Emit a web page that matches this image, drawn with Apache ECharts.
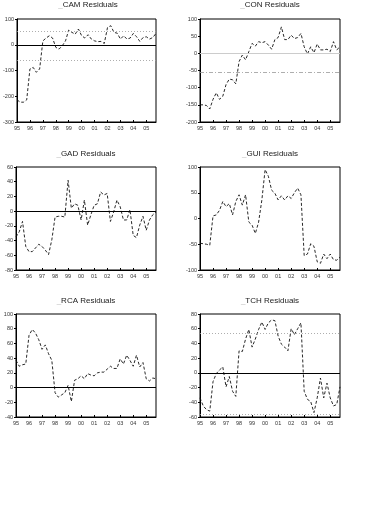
<!DOCTYPE html>
<html><head><meta charset="utf-8">
<script src="https://cdn.jsdelivr.net/npm/echarts@6/dist/echarts.min.js"></script>
<style>html,body{margin:0;padding:0;background:#fff}#c{width:368px;height:512px}</style>
</head><body><div id="c"></div>
<script>
// Quarterly 1995Q1 - 2005Q4
var years = ['95','96','97','98','99','00','01','02','03','04','05'];
var quarters = ['Q1','Q2','Q3','Q4'];

var titles = ['CAM Residuals', 'CON Residuals', 'GAD Residuals', 'GUI Residuals', 'RCA Residuals', 'TCH Residuals'];

var cam = [-214,-223,-223,-214,-94,-88,-107,-94,15,26,35,26,-10,-17,-4,15,57,48,41,61,35,26,39,22,15,12,13,5,67,74,48,45,22,35,22,26,44,31,13,28,31,22,28,44];
var con = [-150,-150,-152,-162,-134,-115,-134,-125,-91,-75,-77,-89,-24,-5,-19,5,29,21,34,31,34,24,12,40,46,77,40,40,53,43,46,58,19,-2,19,2,27,10,10,12,5,34,10,19];
var gad = [-35,-28,-14,-48,-55,-55,-50,-45,-48,-53,-59,-39,-8,-7,-7,-8,42,4,10,8,-12,15,-19,-5,8,10,26,22,24,-14,-1,15,6,-12,-12,2,-33,-36,-19,-7,-26,-12,-5,-1];
var gui = [-48,-49,-50,-52,5,7,16,33,23,29,7,33,46,26,46,-7,-13,-29,-7,36,95,82,55,49,36,44,36,44,39,50,59,46,-72,-69,-49,-54,-84,-87,-69,-78,-69,-80,-81,-75];
var rca = [37,29,31,32,71,79,74,65,52,58,46,37,-7,-13,-10,-7,3,-19,10,12,16,12,19,17,16,20,21,21,25,29,26,26,39,32,44,37,29,44,28,34,12,9,13,12];
var tch = [-34,-45,-50,-52,-12,-1,4,8,-19,-5,-25,-32,30,29,46,59,35,46,59,69,59,68,72,71,50,39,35,30,60,52,60,68,-25,-36,-39,-54,-34,-7,-34,-14,-34,-45,-43,-19];

var yMin = [-300,-200,-80,-100,-40,-60];
var yMax = [100,100,60,100,100,80];
var yInt = [100,50,20,50,20,20];

// reference lines per panel
var zeroLines = [0, 0, 0, null, 0, 0];
var bandLines = [[52,-59], [-54], [], [], [], [54,-56]];

var allSeries = [cam, con, gad, gui, rca, tch];

var cats = [];
years.forEach(function(y){ quarters.forEach(function(q){ cats.push(y + q); }); });

var lefts = [16, 200];
var tops = [19, 167, 314];
var titleTops = [1, 150, 297];
var W = 140, H = 103;

var grids = [], xAxes = [], yAxes = [], series = [], titleArr = [];
for (var i = 0; i < 6; i++) {
  var col = i % 2, row = Math.floor(i / 2);
  grids.push({left: lefts[col], top: tops[row], width: W, height: H, show: true, borderColor: '#000', borderWidth: 1, backgroundColor: 'transparent'});
  titleArr.push({text: '{u|_}' + titles[i], left: lefts[col] + W/2 + (i === 0 ? 2 : 0), top: titleTops[row], textAlign: 'center', padding: 0,
    textStyle: {fontFamily: 'Liberation Sans', fontSize: 8, fontWeight: 'normal', color: '#222',
      rich: {u: {fontFamily: 'Liberation Sans', fontSize: 8, color: '#bbb'}}}});
  xAxes.push({type: 'category', gridIndex: i, data: cats, boundaryGap: false,
    axisLine: {onZero: false, lineStyle: {color: '#000', width: 1}},
    axisTick: {inside: true, length: 2, interval: function(idx){ return idx % 4 === 0; }, lineStyle: {color: '#000'}},
    axisLabel: {interval: function(idx){ return idx % 4 === 0; }, formatter: function(v){ return v.slice(0,2); },
      fontFamily: 'Liberation Sans', fontSize: 5.5, color: '#333', margin: 3},
    splitLine: {show: false}});
  yAxes.push({type: 'value', gridIndex: i, min: yMin[i], max: yMax[i], interval: yInt[i],
    axisLine: {show: true, onZero: false, lineStyle: {color: '#000', width: 1}},
    axisTick: {show: true, length: 2, lineStyle: {color: '#000'}},
    axisLabel: {fontFamily: 'Liberation Sans', fontSize: 5.5, color: '#333', margin: 3},
    splitLine: {show: false}});
  var ml = [];
  if (zeroLines[i] !== null) {
    ml.push({yAxis: zeroLines[i], lineStyle: {color: i === 1 ? '#ccc' : '#000', width: 1, type: 'solid'}});
  }
  bandLines[i].forEach(function(v){
    ml.push({yAxis: v, lineStyle: {color: '#999', width: 0.8, type: i === 1 ? [4,2,1,2] : [1,2]}});
  });
  series.push({type: 'line', xAxisIndex: i, yAxisIndex: i, data: allSeries[i], symbol: 'none',
    lineStyle: {color: '#111', width: 0.9, type: [3,2]},
    markLine: {silent: true, symbol: 'none', label: {show: false}, data: ml},
    z: 3});
}

var chart = echarts.init(document.getElementById('c'), null, {renderer: 'canvas'});
chart.setOption({animation: false, title: titleArr, grid: grids, xAxis: xAxes, yAxis: yAxes, series: series});
</script>
</body></html>
